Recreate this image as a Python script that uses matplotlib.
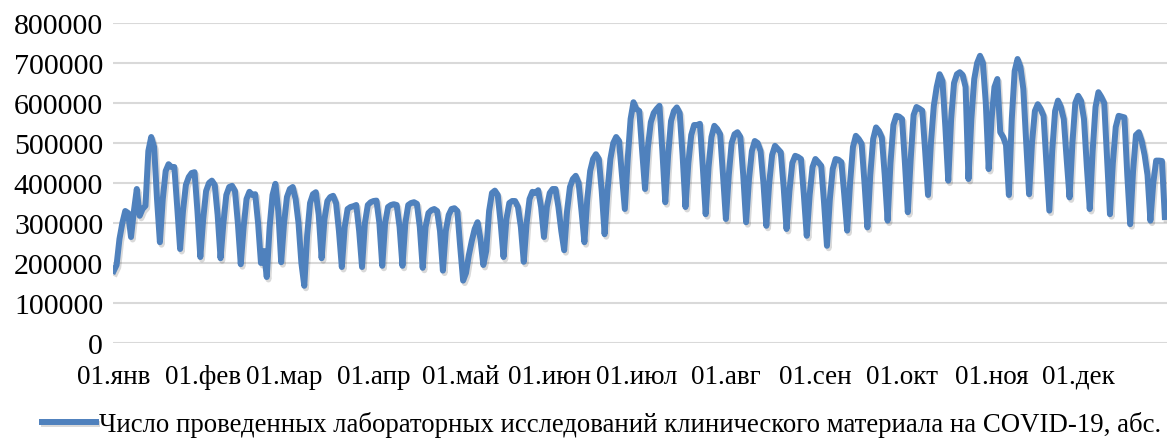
import numpy as np
import pandas as pd
import matplotlib
matplotlib.use('Agg')
import matplotlib.pyplot as plt
import matplotlib.patheffects as pe

plt.rcParams['font.family'] = ['Liberation Serif', 'DejaVu Serif']

# daily number of lab tests, 2021, one row per week (Sun..Sat)
tests = [
    180, 195,
    260, 300, 330, 325, 265, 330, 385,
    318, 335, 343, 480, 515, 490, 360,
    252, 360, 430, 447, 440, 440, 340,
    235, 330, 395, 415, 425, 427, 330,
    215, 310, 380, 400, 406, 395, 320,
    212, 300, 370, 390, 393, 380, 300,
    197, 290, 360, 378, 370, 372, 300,
    200, 230, 165, 290, 370, 398, 330,
    202, 300, 365, 385, 390, 360, 300,
    200, 143, 270, 350, 372, 377, 320,
    212, 310, 355, 365, 368, 350, 280,
    190, 290, 335, 340, 342, 345, 280,
    190, 300, 345, 352, 355, 356, 300,
    193, 300, 340, 345, 347, 345, 290,
    193, 300, 345, 350, 352, 348, 290,
    188, 290, 325, 332, 335, 330, 280,
    181, 280, 320, 335, 337, 330, 240,
    156, 175, 220, 255, 285, 302, 260,
    195, 230, 330, 375, 381, 370, 300,
    215, 310, 350, 355, 355, 340, 290,
    203, 300, 360, 378, 375, 382, 340,
    265, 340, 375, 385, 385, 340, 280,
    232, 330, 390, 410, 418, 400, 330,
    252, 360, 430, 460, 472, 460, 380,
    272, 380, 460, 500, 515, 505, 420,
    335, 460, 560, 602, 585, 580, 480,
    385, 490, 552, 575, 585, 593, 480,
    352, 470, 555, 580, 589, 575, 470,
    340, 450, 520, 545, 545, 548, 440,
    322, 440, 515, 543, 535, 522, 420,
    310, 420, 500, 522, 527, 515, 420,
    302, 410, 480, 505, 500, 480, 400,
    293, 400, 470, 493, 485, 477, 390,
    285, 380, 450, 468, 465, 460, 370,
    268, 370, 440, 460, 452, 443, 350,
    243, 360, 435, 460, 458, 452, 370,
    281, 400, 490, 518, 510, 498, 400,
    289, 420, 510, 539, 530, 514, 420,
    306, 450, 545, 568, 566, 560, 450,
    327, 460, 570, 590, 586, 581, 480,
    370, 500, 593, 640, 672, 655, 540,
    406, 560, 650, 672, 677, 670, 640,
    410, 560, 660, 700, 718, 700, 600,
    435, 560, 640, 660, 527, 515, 495,
    370, 560, 680, 710, 690, 635, 500,
    372, 500, 580, 597, 585, 568, 450,
    331, 480, 580, 606, 590, 560, 460,
    364, 500, 600, 618, 605, 560, 440,
    335, 480, 590, 627, 615, 600, 460,
    322, 450, 540, 568, 566, 564, 420,
    297, 430, 520, 527, 505, 470, 420,
    306, 400, 456, 456, 455, 315,
]
tests = np.array(tests) * 1000
dates = pd.date_range('2021-01-01', periods=len(tests), freq='D')

month_labels = ['01.янв', '01.фев', '01.мар', '01.апр', '01.май', '01.июн',
                '01.июл', '01.авг', '01.сен', '01.окт', '01.ноя', '01.дек']
month_starts = pd.date_range('2021-01-01', periods=12, freq='MS')
yticks = np.arange(0, 800001, 100000)
legend_text = ('Число проведенных лабораторных исследований клинического '
               'материала на COVID-19, абс.')

fig = plt.figure(figsize=(11.67, 4.39), dpi=100)
ax = fig.add_axes([0.0968, 0.2164, 0.9032, 0.7289])

line, = ax.plot(dates, tests, color='#4F81BD', lw=4.3, solid_joinstyle='round',
                label=legend_text,
                path_effects=[pe.SimpleLineShadow(offset=(1.2, -1.8), alpha=0.15),
                              pe.Normal()])

ax.set_ylim(0, 800000)
ax.set_xlim(dates[0] - pd.Timedelta(hours=6), dates[-1] + pd.Timedelta(hours=18))
ax.set_yticks(yticks)
ax.set_yticklabels([str(v) for v in yticks])
ax.set_xticks(month_starts)
ax.set_xticklabels(month_labels)
ax.yaxis.grid(True, color='#d9d9d9', lw=1.5)
ax.set_axisbelow(True)
for s in ax.spines.values():
    s.set_visible(False)
ax.tick_params(axis='both', length=0, colors='black')
ax.tick_params(axis='y', pad=7, labelsize=21.5)
ax.tick_params(axis='x', pad=15, labelsize=19.5)

fig.legend(handles=[line], labels=[legend_text], loc='center left',
           bbox_to_anchor=(42 / 1167, 1 - 425 / 439), frameon=False,
           fontsize=19.3, borderpad=0, borderaxespad=0,
           handlelength=2.0, handletextpad=0.12)

fig.savefig('out.png', dpi=100)
